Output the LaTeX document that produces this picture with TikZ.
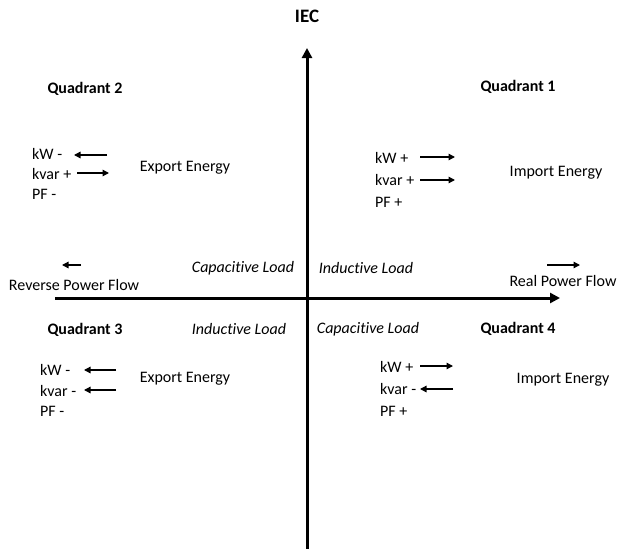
\documentclass[tikz,border=0pt]{standalone}
\usepackage{fontspec}
\setmainfont{Carlito}[Ligatures=NoCommon]
\usetikzlibrary{arrows.meta}
\begin{document}
\begin{tikzpicture}[x=1pt,y=-1pt,
  lbl/.style={font=\fontsize{16}{18}\selectfont, inner sep=0pt},
  lft/.style={lbl, anchor=west},
  hd/.style={lbl, font=\fontsize{16}{18}\selectfont\bfseries},
  it/.style={lbl, font=\fontsize{16}{18}\selectfont\itshape},
  axis/.style={line width=3pt, -{Triangle[length=10pt,width=10pt]}},
  small/.style={line width=1.3pt, -{Triangle[length=6.5pt,width=6.5pt]}}]
\useasboundingbox (0,0) rectangle (619,549);
% axes
\coordinate (vb) at (307,549);
\coordinate (vt) at (307,48);
\coordinate (hl) at (55,298);
\coordinate (hr) at (560,298);
\draw[axis] (vb) -- (vt);
\draw[axis] (hl) -- (hr);
\node[hd, font=\fontsize{19}{21}\selectfont\bfseries] (iec) at (307,16) {IEC};
% quadrant headings
\node[hd] (q2) at (85,89) {Quadrant 2};
\node[hd] (q1) at (518,87) {Quadrant 1};
\node[hd] (q3) at (85,330) {Quadrant 3};
\node[hd] (q4) at (518,329) {Quadrant 4};
% Q2
\node[lft] (q2kw) at (32,154) {kW -};
\node[lft] (q2kvar) at (32,174) {kvar +};
\node[lft] (q2pf) at (32,194) {PF -};
\node[lbl] (q2e) at (185,168) {Export Energy};
\coordinate (a1s) at (107,155); \coordinate (a1e) at (74,155);
\coordinate (a2s) at (77,173); \coordinate (a2e) at (109,173);
\draw[small] (a1s) -- (a1e);
\draw[small] (a2s) -- (a2e);
% Q1
\node[lft] (q1kw) at (375,158) {kW +};
\node[lft] (q1kvar) at (375,180) {kvar +};
\node[lft] (q1pf) at (375,202) {PF +};
\node[lbl] (q1e) at (556,173) {Import Energy};
\coordinate (b1s) at (420,157); \coordinate (b1e) at (455,157);
\coordinate (b2s) at (420,180); \coordinate (b2e) at (455,180);
\draw[small] (b1s) -- (b1e);
\draw[small] (b2s) -- (b2e);
% flow labels
\node[lbl] (rev) at (74,285) {Reverse Power Flow};
\coordinate (c1s) at (81,265); \coordinate (c1e) at (62,265);
\draw[small] (c1s) -- (c1e);
\node[lbl] (real) at (563,281) {Real Power Flow};
\coordinate (c2s) at (547,265); \coordinate (c2e) at (580,265);
\draw[small] (c2s) -- (c2e);
% load labels
\node[it] (cap1) at (243,268) {Capacitive Load};
\node[it] (ind1) at (366,268) {Inductive Load};
\node[it] (ind2) at (239,329) {Inductive Load};
\node[it] (cap2) at (368,329) {Capacitive Load};
% Q3
\node[lft] (q3kw) at (40,370) {kW -};
\node[lft] (q3kvar) at (40,391) {kvar -};
\node[lft] (q3pf) at (40,411) {PF -};
\node[lbl] (q3e) at (185,379) {Export Energy};
\coordinate (d1s) at (116,370); \coordinate (d1e) at (84,370);
\coordinate (d2s) at (116,390); \coordinate (d2e) at (84,390);
\draw[small] (d1s) -- (d1e);
\draw[small] (d2s) -- (d2e);
% Q4
\node[lft] (q4kw) at (380,367) {kW +};
\node[lft] (q4kvar) at (380,389) {kvar -};
\node[lft] (q4pf) at (380,411) {PF +};
\node[lbl] (q4e) at (563,380) {Import Energy};
\coordinate (e1s) at (420,366); \coordinate (e1e) at (453,366);
\coordinate (e2s) at (453,389); \coordinate (e2e) at (420,389);
\draw[small] (e1s) -- (e1e);
\draw[small] (e2s) -- (e2e);
\end{tikzpicture}
\end{document}
